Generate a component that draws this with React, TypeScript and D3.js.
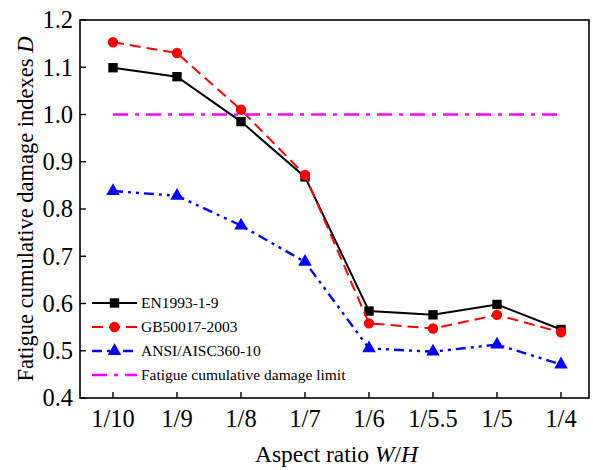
import * as d3 from "d3";

const ratios = ["1/10", "1/9", "1/8", "1/7", "1/6", "1/5.5", "1/5", "1/4"];
const en1993 = [1.099, 1.08, 0.985, 0.868, 0.584, 0.576, 0.598, 0.545];
const gb50017 = [1.153, 1.13, 1.01, 0.872, 0.558, 0.547, 0.576, 0.539];
const ansi = [0.838, 0.828, 0.765, 0.688, 0.505, 0.498, 0.513, 0.471];
const limit = [1.0, 1.0, 1.0, 1.0, 1.0, 1.0, 1.0, 1.0];
const yTicks = [0.4, 0.5, 0.6, 0.7, 0.8, 0.9, 1.0, 1.1, 1.2];

const series = [
  { name: "EN1993-1-9", values: en1993, color: "#000000", dash: null, width: 2, marker: "square" },
  { name: "GB50017-2003", values: gb50017, color: "#ff0000", dash: "11,6", width: 2, marker: "circle" },
  { name: "ANSI/AISC360-10", values: ansi, color: "#0000ff", dash: "10,5,3,5,3,5", width: 2.4, marker: "triangle" },
  { name: "Fatigue cumulative damage limit", values: limit, color: "#ff00ff", dash: "15,7,4,7", width: 2.4, marker: null },
];

const font = '"Liberation Serif", "Times New Roman", "DejaVu Serif", serif';

export default function App() {
  const width = 593;
  const height = 470;
  const box = { left: 80, right: 589, top: 20, bottom: 398 };

  const x = d3.scalePoint<string>().domain(ratios).range([81, 593]).padding(0.5);
  const y = d3.scaleLinear().domain([0.4, 1.2]).range([box.bottom, box.top]);

  const line = d3
    .line<number>()
    .x((_, i) => x(ratios[i]) as number)
    .y((d) => y(d));

  // marker shapes
  const symbol = (kind: string | null) => {
    if (kind === "square") return d3.symbol().type(d3.symbolSquare).size(88)();
    if (kind === "circle") return d3.symbol().type(d3.symbolCircle).size(85)();
    if (kind === "triangle") return d3.symbol().type(d3.symbolTriangle).size(80)();
    return null;
  };

  return (
    <svg
      width={width}
      height={height}
      style={{ position: "absolute", left: 0, top: 0, background: "#fff", fontFamily: font }}
    >
      {/* series */}
      {series.map((s) => (
        <g key={s.name}>
          <path
            d={line(s.values) || ""}
            fill="none"
            stroke={s.color}
            strokeWidth={s.width}
            strokeDasharray={s.dash || undefined}
          />
          {s.marker &&
            s.values.map((v, i) => (
              <path
                key={i}
                d={symbol(s.marker) || ""}
                transform={`translate(${x(ratios[i])},${y(v)})`}
                fill={s.color}
              />
            ))}
        </g>
      ))}

      {/* frame */}
      <rect
        x={box.left}
        y={box.top}
        width={box.right - box.left}
        height={box.bottom - box.top}
        fill="none"
        stroke="#000"
        strokeWidth={1.6}
      />

      {/* y axis */}
      {yTicks.map((t) => (
        <g key={t}>
          <line x1={box.left} x2={box.left + 6} y1={y(t)} y2={y(t)} stroke="#000" strokeWidth={1.4} />
          <text x={box.left - 7} y={y(t)} dy="0.34em" textAnchor="end" fontSize={24.5}>
            {t.toFixed(1)}
          </text>
        </g>
      ))}

      {/* x axis */}
      {ratios.map((r) => (
        <g key={r}>
          <line x1={x(r)} x2={x(r)} y1={box.bottom} y2={box.bottom - 6} stroke="#000" strokeWidth={1.4} />
          <text x={x(r)} y={427} textAnchor="middle" fontSize={24.5}>
            {r}
          </text>
        </g>
      ))}

      <text x={(box.left + box.right) / 2 + 2} y={462} textAnchor="middle" fontSize={23.5}>
        Aspect ratio <tspan fontStyle="italic">W</tspan>/<tspan fontStyle="italic">H</tspan>
      </text>
      <text
        transform={`translate(33,${(box.top + box.bottom) / 2}) rotate(-90)`}
        textAnchor="middle"
        fontSize={22.5}
      >
        Fatigue cumulative damage indexes <tspan fontStyle="italic">D</tspan>
      </text>

      {/* legend */}
      {series.map((s, i) => {
        const ly = 303 + i * 24;
        return (
          <g key={s.name}>
            <line
              x1={92}
              x2={137}
              y1={ly}
              y2={ly}
              stroke={s.color}
              strokeWidth={s.width}
              strokeDasharray={s.dash || undefined}
            />
            {s.marker && <path d={symbol(s.marker) || ""} transform={`translate(114.5,${ly})`} fill={s.color} />}
            <text x={141} y={ly} dy="0.33em" fontSize={15.5}>
              {s.name}
            </text>
          </g>
        );
      })}
    </svg>
  );
}
